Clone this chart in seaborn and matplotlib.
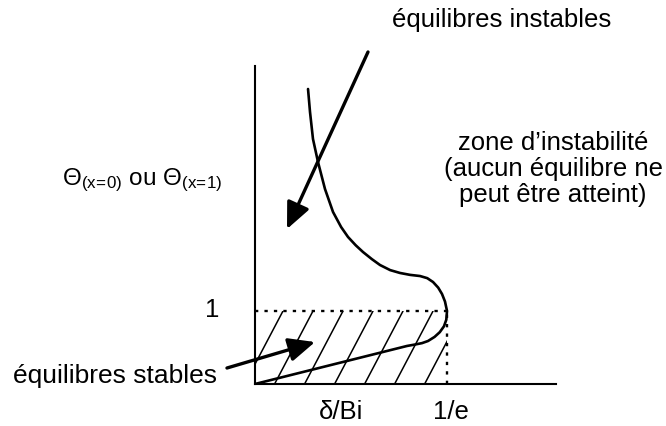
import numpy as np
import matplotlib
matplotlib.use("Agg")
import matplotlib.pyplot as plt
from matplotlib.patches import Rectangle
import seaborn as sns

# ---- data ----
# delta/Bi (x) and Theta (y) along the equilibrium curve, from the top of the
# unstable branch down through the turning point (1/e, 1) to the origin
curve_x = [0.1016, 0.1054, 0.1111, 0.1207, 0.1341, 0.1495, 0.1650, 0.1782,
           0.1930, 0.2069, 0.2240, 0.2395, 0.2590, 0.2778, 0.2970, 0.3162,
           0.3300, 0.3411, 0.3510, 0.3583, 0.3640, 0.3679, 0.3665, 0.3620,
           0.3540, 0.3440, 0.3315, 0.3200, 0.3060, 0.2912, 0.0]
curve_y = [4.041, 3.726, 3.356, 3.041, 2.671, 2.356, 2.150, 2.014,
           1.900, 1.808, 1.710, 1.630, 1.560, 1.521, 1.495, 1.479,
           1.450, 1.397, 1.320, 1.233, 1.130, 1.000, 0.880, 0.790,
           0.710, 0.645, 0.589, 0.560, 0.540, 0.521, 0.0]
x_crit = 1 / np.e          # 1/e
theta_crit = 1.0

sns.set_theme(style="white")
plt.rcParams["font.family"] = ["Liberation Sans", "DejaVu Sans"]
plt.rcParams["text.color"] = "black"
plt.rcParams["mathtext.fontset"] = "custom"
plt.rcParams["mathtext.rm"] = "Liberation Sans"
plt.rcParams["mathtext.it"] = "Liberation Sans"
plt.rcParams["mathtext.bf"] = "Liberation Sans:bold"

fig = plt.figure(figsize=(6.66, 4.27), dpi=100)
ax = fig.add_axes([255 / 666, 42 / 427, 301 / 666, 318 / 427])
ax.set_xlim(0, 0.5767)
ax.set_ylim(0, 4.356)
ax.set_xticks([])
ax.set_yticks([])
sns.despine(ax=ax)
for s in ("left", "bottom"):
    ax.spines[s].set_color("black")
    ax.spines[s].set_linewidth(1.5)

# equilibrium curve
sns.lineplot(x=curve_x, y=curve_y, sort=False, estimator=None, ax=ax,
             color="black", lw=1.9)

# dotted guide lines at Theta = 1 and delta/Bi = 1/e
ax.plot([0, x_crit], [theta_crit, theta_crit], color="black", lw=1.7,
        linestyle=(0, (1.4, 2.6)), clip_on=False)
ax.plot([x_crit, x_crit], [0, theta_crit], color="black", lw=1.7,
        linestyle=(0, (1.4, 2.6)), clip_on=False)

# hatched stable region
rect = Rectangle((0, 0), x_crit, theta_crit, fill=False, lw=0)
ax.add_patch(rect)
slope = 13.58
for xb in np.arange(-0.02, 0.37, 0.0575):
    ln, = ax.plot([xb, xb + theta_crit / slope], [0, theta_crit],
                  color="black", lw=1.1)
    ln.set_clip_path(rect)

# arrows
arrow_style = dict(arrowstyle="-|>,head_length=0.8,head_width=0.36",
                   lw=2.4, color="black", mutation_scale=20,
                   shrinkA=0, shrinkB=0)
ax.annotate("", xy=(0.0613, 2.123), xytext=(0.2165, 4.548),
            xycoords="data", textcoords="data", annotation_clip=False,
            arrowprops=arrow_style)
ax.annotate("", xy=(0.115, 0.575), xytext=(-0.0537, 0.219),
            xycoords="data", textcoords="data", annotation_clip=False,
            arrowprops=arrow_style)

fs = 18.5
ax.text(0.4733, 4.904, "équilibres instables", ha="center", va="baseline",
        fontsize=fs, color="black", clip_on=False)
for txt, yb in [("zone d\u2019instabilité", 3.219),
                ("(aucun équilibre ne", 2.863),
                ("peut être atteint)", 2.507)]:
    ax.text(0.571, yb, txt, ha="center", va="baseline", fontsize=fs,
            color="black", clip_on=False)
ax.text(-0.3698, 2.740,
        r"$\Theta_{(x\!=\!0)}$ ou $\Theta_{(x\!=\!1)}$",
        ha="left", va="baseline", fontsize=17.5, color="black", clip_on=False)
ax.text(-0.0824, 0.936, "1", ha="center", va="baseline", fontsize=fs,
        color="black", clip_on=False)
ax.text(-0.4637, 0.023, "équilibres stables", ha="left", va="baseline",
        fontsize=19, color="black", clip_on=False)
ax.text(0.1648, -0.466, "δ/Bi", ha="center", va="baseline", fontsize=fs,
        color="black", clip_on=False)
ax.text(0.3756, -0.466, "1/e", ha="center", va="baseline", fontsize=fs,
        color="black", clip_on=False)

fig.savefig("out.png", dpi=100)
